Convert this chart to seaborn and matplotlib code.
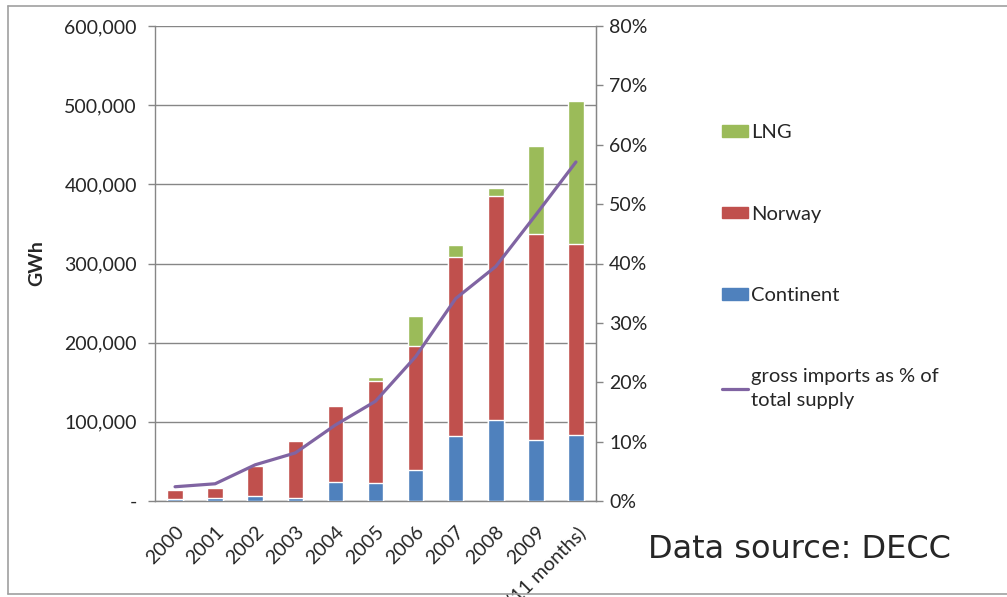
import numpy as np
import matplotlib.pyplot as plt
import matplotlib.ticker as mticker
from matplotlib.lines import Line2D
from matplotlib.patches import Patch
import seaborn as sns

# Data (GWh and percent)
years = ['2000', '2001', '2002', '2003', '2004', '2005', '2006', '2007', '2008', '2009', '2010 (11 months)']
continent = [2000, 4200, 6300, 4200, 24400, 23100, 39100, 82500, 101900, 77000, 83300]
norway = [12000, 12600, 37900, 71600, 95600, 128400, 157000, 226000, 283600, 260100, 240800]
lng = [0, 0, 0, 0, 0, 5500, 37900, 14700, 9700, 111100, 180900]
import_pct = [2.4, 2.9, 6.1, 8.1, 12.8, 16.8, 24.3, 34.1, 39.5, 48.2, 57.1]

c_cont = '#4F81BD'
c_nor = '#C0504D'
c_lng = '#9BBB59'
c_line = '#8064A2'
grey = '#868686'

sns.set_style('white')
plt.rcParams['font.family'] = ['Lato', 'DejaVu Sans']

fig = plt.figure(figsize=(10.07, 5.97), dpi=100)
ax = fig.add_axes([155 / 1007, 1 - 501 / 597, (596 - 155) / 1007, (501 - 26) / 597])

cont = np.array(continent)
tot_nor = cont + np.array(norway)
tot_lng = tot_nor + np.array(lng)

# stacked bars drawn as overlapping cumulative bars
sns.barplot(x=years, y=tot_lng, color=c_lng, saturation=1, width=0.39, ax=ax, zorder=2)
sns.barplot(x=years, y=tot_nor, color=c_nor, saturation=1, width=0.39, ax=ax, zorder=3)
sns.barplot(x=years, y=cont, color=c_cont, saturation=1, width=0.39, ax=ax, zorder=4)

ax.set_ylim(0, 600000)
ax.set_xlim(-0.5, len(years) - 0.5)
ax.set_yticks(np.arange(0, 600001, 100000))
ax.yaxis.set_major_formatter(mticker.FuncFormatter(lambda v, p: '-' if v == 0 else f'{v:,.0f}'))
ax.grid(axis='y', color=grey, linewidth=1, zorder=0)
ax.set_axisbelow(True)
ax.set_ylabel('GWh', fontsize=14, fontweight='bold', labelpad=14)

# category boundary ticks on the x axis
ax.set_xticks(np.arange(-0.5, len(years), 1), minor=True)
ax.tick_params(axis='x', which='minor', length=5, color=grey, width=1, direction='out')
ax.tick_params(axis='x', which='major', length=0, pad=16)
ax.set_xticks(range(len(years)))
ax.set_xticklabels(years, rotation=45, ha='right', rotation_mode='anchor', fontsize=14)
ax.tick_params(axis='y', length=5, color=grey, width=1, labelsize=14, pad=8, left=True)

for s in ['left', 'right', 'bottom']:
    ax.spines[s].set_color(grey)
    ax.spines[s].set_linewidth(1)
ax.spines['top'].set_visible(False)

ax2 = ax.twinx()
sns.lineplot(x=np.arange(len(years)), y=import_pct, color=c_line, linewidth=2.3, ax=ax2, zorder=5)
ax2.set_ylim(0, 80)
ax2.set_yticks(np.arange(0, 81, 10))
ax2.yaxis.set_major_formatter(mticker.FuncFormatter(lambda v, p: f'{v:.0f}%'))
ax2.tick_params(axis='y', length=5, color=grey, width=1, labelsize=14, pad=4.5, right=True)
for s in ['top', 'left', 'bottom']:
    ax2.spines[s].set_visible(False)
ax2.spines['right'].set_color(grey)
ax2.grid(False)

handles = [Patch(color=c_lng), Patch(color=c_nor), Patch(color=c_cont),
           Line2D([], [], color=c_line, linewidth=2.3)]
labels = ['LNG', 'Norway', 'Continent', 'gross imports as % of\ntotal supply']
leg = fig.legend(handles, labels, loc='upper left', bbox_to_anchor=(712 / 1007, 1 - 114 / 597),
                 frameon=False, fontsize=14.5, labelspacing=3.2, handlelength=1.3,
                 handleheight=0.5, handletextpad=0.15, borderpad=0)
for t in leg.get_texts():
    t.set_linespacing(1.5)

fig.text(648 / 1007, 1 - 550 / 597, 'Data source: DECC', fontsize=23,
         family='DejaVu Sans', va='center', ha='left')

# outer frame
for xs, ys in [([8 / 1007, 1.0], [1 - 6 / 597] * 2), ([8 / 1007] * 2, [1 - 6 / 597, 1 - 594 / 597]),
               ([8 / 1007, 1.0], [1 - 594 / 597] * 2)]:
    fig.add_artist(Line2D(xs, ys, color='#A0A0A0', linewidth=1.2))

fig.savefig('out.png', dpi=100)
